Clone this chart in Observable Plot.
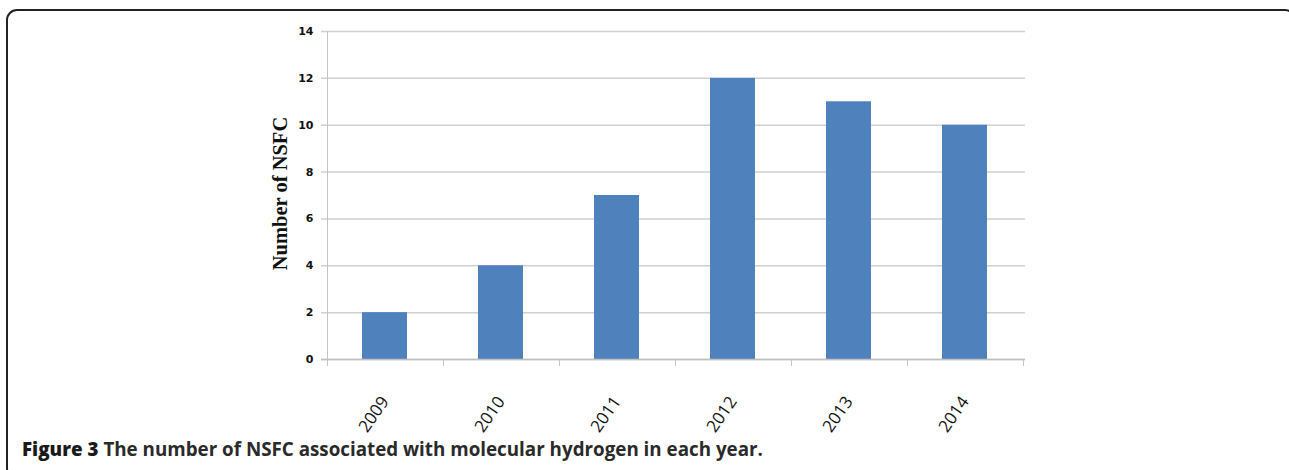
<!DOCTYPE html>
<html>
<head>
<meta charset="utf-8">
<script src="https://cdn.jsdelivr.net/npm/d3@7"></script>
<script src="https://cdn.jsdelivr.net/npm/@observablehq/plot@0.6"></script>
<style>
  html, body { margin: 0; padding: 0; background: #fff; }
  #wrap { position: relative; width: 1289px; height: 470px; overflow: hidden; }
  #chart svg { position: absolute; left: 0; top: 0; background: transparent; }
  #border { position: absolute; left: 6px; top: 9px; width: 1290px; height: 470px; border: 2px solid #222; border-radius: 11px; box-sizing: border-box; pointer-events: none; }
  #caption { position: absolute; left: 22px; top: 437px; font-family: "Open Sans", sans-serif; font-weight: bold; font-size: 18.8px; line-height: 1.362; color: #2a2a2a; white-space: nowrap; }
  #caption b { color: #1a1a1a; }
</style>
</head>
<body>
<div id="wrap">
  <div id="chart"></div>
  <div id="border"></div>
  <div id="caption"><b>Figure 3</b> The number of NSFC associated with molecular hydrogen in each year.</div>
</div>
<script>
const years = ["2009", "2010", "2011", "2012", "2013", "2014"];
const counts = [2, 4, 7, 12, 11, 10];
const yTicks = [0, 2, 4, 6, 8, 10, 12, 14];
const yLabel = "Number of NSFC";

const data = years.map((y, i) => ({year: y, count: counts[i]}));
const yMax = yTicks[yTicks.length - 1];

function xFrame(index, scales) {
  const x = scales.x, y = scales.y;
  const step = x.step(), bw = x.bandwidth();
  const gap = (step - bw) / 2;
  const y0 = y(0), yTop = y(yMax);
  const xs = years.map(d => x(d) - gap);
  xs.push(x(years[years.length - 1]) + bw + gap);
  const g = d3.create("svg:g").attr("stroke", "#c4c4c4").attr("stroke-width", 1);
  g.selectAll("line.t").data(xs).join("line")
    .attr("x1", d => Math.round(d) + 0.5).attr("x2", d => Math.round(d) + 0.5)
    .attr("y1", y0).attr("y2", y0 + 7);
  g.append("line")
    .attr("x1", Math.round(xs[0]) + 0.5).attr("x2", Math.round(xs[0]) + 0.5)
    .attr("y1", yTop).attr("y2", y0);
  return g.node();
}

const plot = Plot.plot({
  width: 1289,
  height: 470,
  marginTop: 31,
  marginBottom: 111,
  marginLeft: 325,
  marginRight: 264,
  style: {background: "transparent"},
  x: {type: "band", domain: years, paddingInner: 0.61, paddingOuter: 0.305, axis: null},
  y: {domain: [0, yMax], axis: null},
  marks: [
    Plot.ruleY(yTicks, {y: d => d, stroke: "#d0d0d0", strokeWidth: 1.5, insetLeft: -4}),
    Plot.barY(data, {x: "year", y: "count", fill: "#4f81bd"}),
    Plot.ruleY([0], {stroke: "#c0c0c0", strokeWidth: 1.5, insetLeft: -4}),
    xFrame,
    Plot.axisY(yTicks, {ticks: yTicks, tickSize: 0, tickPadding: 12, fontWeight: "bold", fontSize: 11, fontFamily: "DejaVu Sans", fill: "#111", label: null}),
    Plot.text([yLabel], {frameAnchor: "left", rotate: -90, dx: -45, dy: -2, textAnchor: "middle", lineAnchor: "middle", fontFamily: "Liberation Serif", fontWeight: "bold", fontSize: 20.5, fill: "#111"}),
    Plot.text(years, {x: d => d, y: () => 0, dy: 39, rotate: -55, textAnchor: "end", lineAnchor: "middle", fontFamily: "Open Sans", fontSize: 17, fill: "#111"})
  ]
});
document.getElementById("chart").appendChild(plot);
</script>
</body>
</html>
